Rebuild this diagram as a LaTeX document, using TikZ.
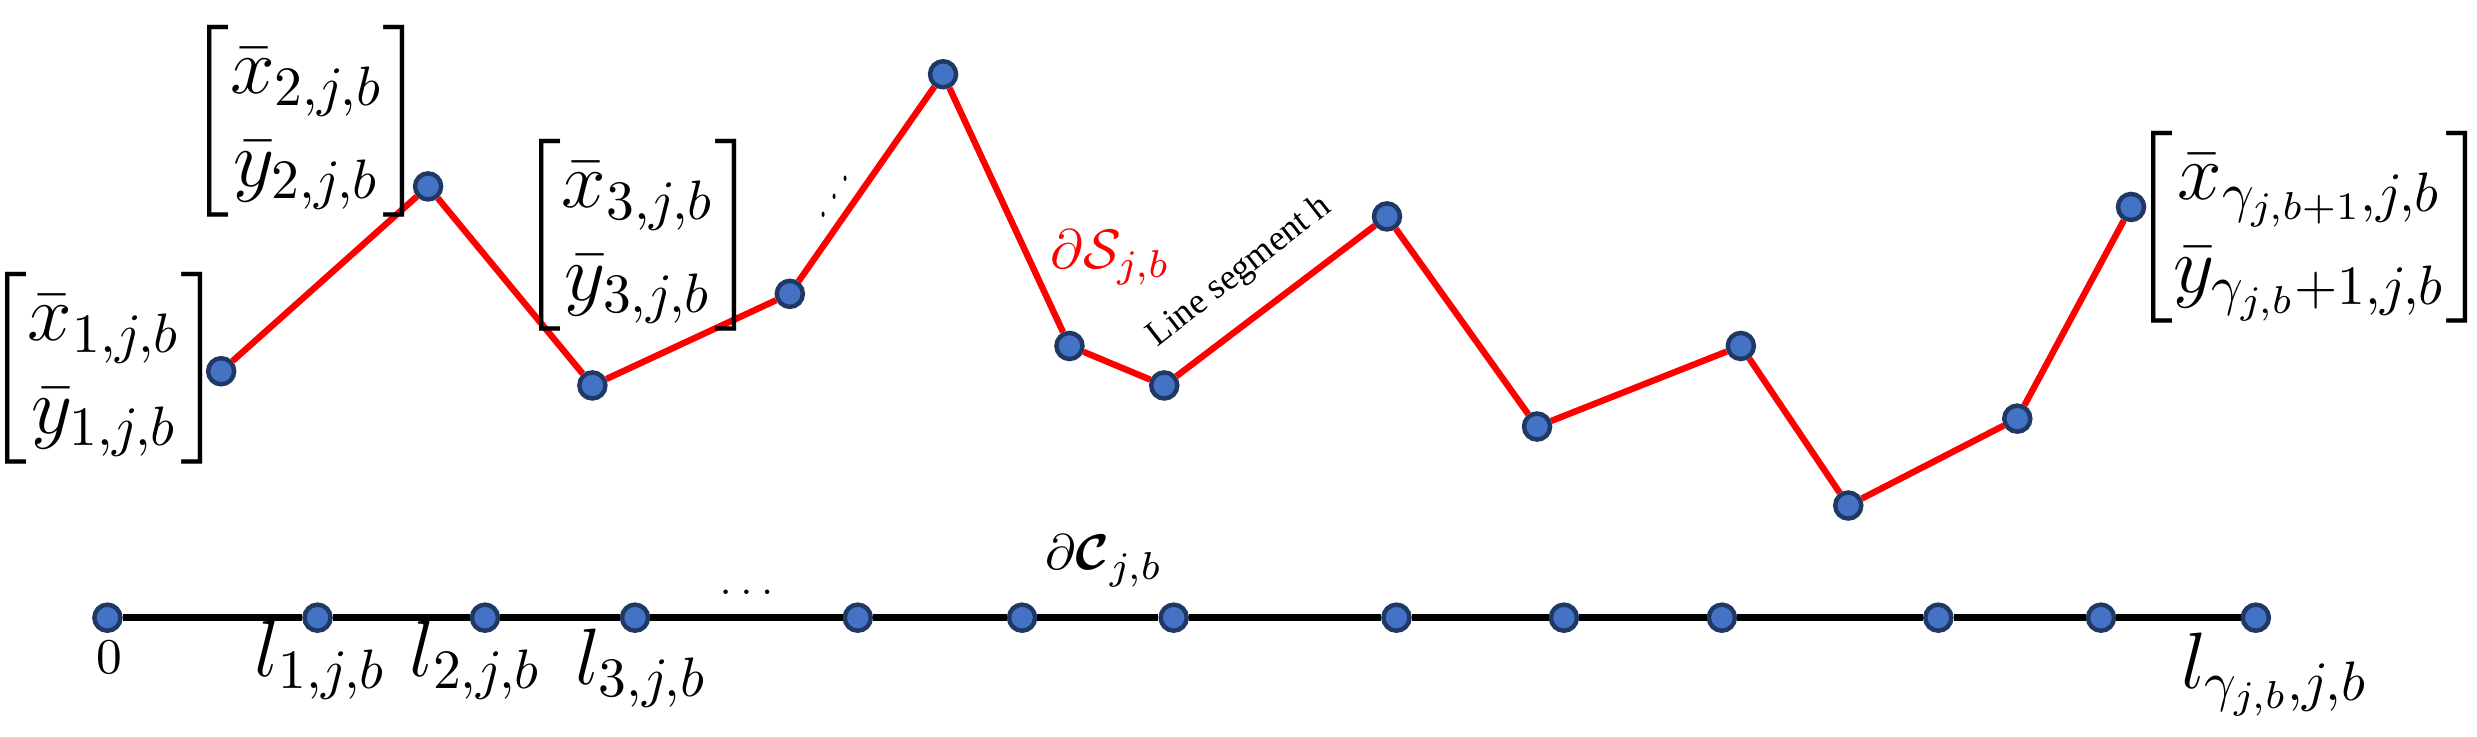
\documentclass[tikz,border=0pt]{standalone}
\usepackage{amsmath}
\usepackage{fontspec}
\newfontfamily\tnr{Liberation Serif}
\definecolor{dotfill}{HTML}{4472C4}
\definecolor{dotedge}{HTML}{1F3864}
\definecolor{pathred}{HTML}{FF0000}
\begin{document}
\begin{tikzpicture}[x=0.01cm,y=-0.01cm,
  vtx/.style={circle, draw=dotedge, fill=dotfill, line width=0.8pt, minimum size=0.165cm, inner sep=0pt},
  redline/.style={draw=pathred, line width=1.15pt},
  axisline/.style={draw=black, line width=1.3pt},
  lbl/.style={inner sep=0pt, font=\fontsize{14}{16.8}\selectfont},
  smalllbl/.style={inner sep=0pt, font=\fontsize{9}{11}\selectfont}
]
\useasboundingbox (0,0) rectangle (1568,466);

% red polyline vertices
\node[vtx] (p1) at (140,235) {};
\node[vtx] (p2) at (271,118) {};
\node[vtx] (p3) at (375,244) {};
\node[vtx] (p4) at (500,186) {};
\node[vtx] (p5) at (597,47) {};
\node[vtx] (p6) at (677,219) {};
\node[vtx] (p7) at (737,244) {};
\node[vtx] (p8) at (878,137) {};
\node[vtx] (p9) at (973,270) {};
\node[vtx] (p10) at (1102,219) {};
\node[vtx] (p11) at (1170,320) {};
\node[vtx] (p12) at (1277,265) {};
\node[vtx] (p13) at (1349,131) {};

\draw[redline] (p1) -- (p2) -- (p3) -- (p4) -- (p5) -- (p6) -- (p7) -- (p8) -- (p9) -- (p10) -- (p11) -- (p12) -- (p13);

% axis points
\node[vtx] (q1) at (68,391) {};
\node[vtx] (q2) at (201,391) {};
\node[vtx] (q3) at (307,391) {};
\node[vtx] (q4) at (402,391) {};
\node[vtx] (q5) at (543,391) {};
\node[vtx] (q6) at (647,391) {};
\node[vtx] (q7) at (743,391) {};
\node[vtx] (q8) at (884,391) {};
\node[vtx] (q9) at (990,391) {};
\node[vtx] (q10) at (1090,391) {};
\node[vtx] (q11) at (1227,391) {};
\node[vtx] (q12) at (1330,391) {};
\node[vtx] (q13) at (1428,391) {};

\draw[axisline] (q1) -- (q2) -- (q3) -- (q4) -- (q5) -- (q6) -- (q7) -- (q8) -- (q9) -- (q10) -- (q11) -- (q12) -- (q13);

% matrices
\node[lbl] (m1) at (66,233) {$\begin{bmatrix}\bar{x}_{1,j,b}\\ \bar{y}_{1,j,b}\end{bmatrix}$};
\node[lbl] (m2) at (194,77) {$\begin{bmatrix}\bar{x}_{2,j,b}\\ \bar{y}_{2,j,b}\end{bmatrix}$};
\node[lbl] (m3) at (404,149) {$\begin{bmatrix}\bar{x}_{3,j,b}\\ \bar{y}_{3,j,b}\end{bmatrix}$};
\node[lbl] (m4) at (1462,144) {$\begin{bmatrix}\bar{x}_{\gamma_{j,b+1},j,b}\\ \bar{y}_{\gamma_{j,b}+1,j,b}\end{bmatrix}$};
\node[inner sep=0pt, font=\fontsize{8}{9}\selectfont] (dd) at (528,113) {\reflectbox{\scalebox{0.6}[1.1]{$\ddots$}}};

% path labels
\node[inner sep=0pt, text=pathred, font=\fontsize{10}{12}\selectfont] (ds) at (703,163) {$\partial\mathcal{S}_{j,b}$};
\node[inner sep=0pt, rotate=38, font=\tnr\fontsize{6.5}{7.5}\selectfont] (seg) at (785,172) {Line segment h};
\node[inner sep=0pt, font=\fontsize{9.5}{11}\selectfont] (dc) at (699,355) {$\partial\boldsymbol{\mathcal{C}}_{j,b}$};
\node[inner sep=0pt, font=\fontsize{7}{8}\selectfont] (dots) at (475,375) {$\dots$};

% axis labels
\node[smalllbl] (l0) at (69,416) {$0$};
\node[lbl] (l1) at (203,418) {$l_{1,j,b}$};
\node[lbl] (l2) at (301,418) {$l_{2,j,b}$};
\node[lbl] (l3) at (406,423) {$l_{3,j,b}$};
\node[lbl] (lg) at (1440,427) {$l_{\gamma_{j,b},j,b}$};
\end{tikzpicture}
\end{document}
